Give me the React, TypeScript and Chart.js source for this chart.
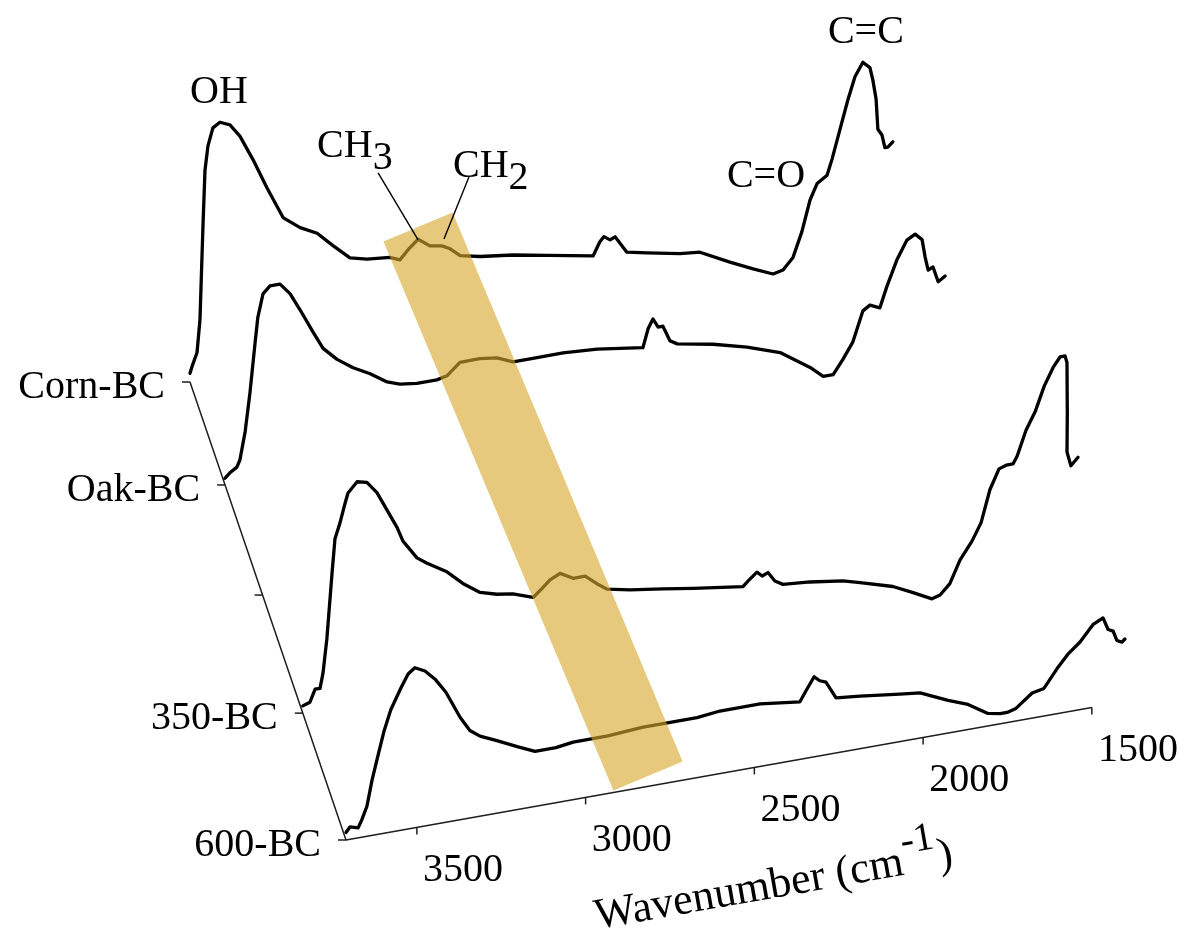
import { useEffect, useRef } from "react";
import { Chart, registerables } from "chart.js";

Chart.register(...registerables);

// ---------------- DATA ----------------
// Series (back to front) and the depth-axis slots they sit in
const SERIES_NAMES = ["Corn-BC", "Oak-BC", "350-BC", "600-BC"];
const SERIES_SLOTS = [0, 1, 3, 4];
const DEPTH_LABELS = ["Corn-BC", "Oak-BC", "", "350-BC", "600-BC"];
const AXIS_TICKS = [3500, 3000, 2500, 2000, 1500];
const AXIS_TITLE = "Wavenumber (cm";
const AXIS_TITLE_SUP = "-1";

const cornWavenumber = [3710, 3703, 3686, 3676, 3666, 3659, 3649, 3632, 3608, 3574, 3540, 3495, 3448, 3393, 3335, 3277, 3223, 3165, 3107, 3029, 2995, 2967, 2933, 2893, 2852, 2824, 2790, 2722, 2610, 2494, 2337, 2314, 2300, 2279, 2262, 2222, 2153, 2041, 1973, 1871, 1792, 1724, 1690, 1656, 1626, 1598, 1574, 1540, 1523, 1496, 1469, 1445, 1418, 1394, 1384, 1373, 1367, 1353, 1343, 1333, 1316];
const cornAbsorbance = [0.04, 0.07, 0.13, 0.28, 0.70, 0.96, 1.07, 1.15, 1.17, 1.15, 1.09, 0.97, 0.83, 0.68, 0.62, 0.58, 0.51, 0.44, 0.42, 0.41, 0.39, 0.43, 0.47, 0.43, 0.42, 0.40, 0.36, 0.34, 0.32, 0.29, 0.25, 0.31, 0.33, 0.31, 0.32, 0.24, 0.22, 0.19, 0.18, 0.11, 0.06, 0.02, 0.03, 0.08, 0.19, 0.33, 0.40, 0.43, 0.50, 0.63, 0.76, 0.86, 0.92, 0.89, 0.83, 0.74, 0.60, 0.57, 0.51, 0.51, 0.53];

const oakWavenumber = [3710, 3694, 3671, 3661, 3644, 3628, 3611, 3602, 3585, 3562, 3529, 3496, 3463, 3420, 3387, 3341, 3288, 3232, 3176, 3134, 3078, 3012, 2979, 2936, 2893, 2870, 2814, 2761, 2705, 2596, 2484, 2333, 2316, 2300, 2283, 2267, 2244, 2220, 2102, 1990, 1881, 1782, 1739, 1706, 1674, 1641, 1608, 1585, 1552, 1529, 1496, 1463, 1436, 1413, 1403, 1393, 1377, 1360, 1337];
const oakAbsorbance = [0.03, 0.05, 0.07, 0.10, 0.22, 0.39, 0.61, 0.72, 0.82, 0.85, 0.85, 0.80, 0.72, 0.61, 0.53, 0.47, 0.42, 0.38, 0.33, 0.31, 0.30, 0.30, 0.31, 0.36, 0.36, 0.36, 0.35, 0.32, 0.32, 0.32, 0.31, 0.28, 0.36, 0.40, 0.36, 0.36, 0.29, 0.27, 0.24, 0.20, 0.15, 0.06, 0.01, 0.01, 0.07, 0.14, 0.27, 0.29, 0.27, 0.36, 0.47, 0.55, 0.57, 0.54, 0.46, 0.40, 0.41, 0.34, 0.36];

const bc350Wavenumber = [3710, 3688, 3672, 3657, 3648, 3636, 3620, 3611, 3596, 3580, 3571, 3543, 3513, 3482, 3451, 3420, 3402, 3359, 3328, 3267, 3218, 3165, 3113, 3064, 3002, 2975, 2950, 2919, 2879, 2842, 2806, 2775, 2704, 2603, 2510, 2357, 2341, 2314, 2298, 2280, 2259, 2234, 2151, 2050, 1997, 1896, 1834, 1776, 1751, 1721, 1690, 1653, 1625, 1598, 1570, 1548, 1527, 1514, 1487, 1459, 1431, 1404, 1382, 1367, 1361, 1360, 1361, 1349, 1327];
const bc350Absorbance = [0.03, 0.04, 0.09, 0.09, 0.15, 0.29, 0.56, 0.70, 0.76, 0.84, 0.88, 0.92, 0.91, 0.86, 0.78, 0.70, 0.64, 0.56, 0.53, 0.48, 0.42, 0.37, 0.35, 0.34, 0.31, 0.34, 0.37, 0.39, 0.36, 0.36, 0.32, 0.29, 0.27, 0.25, 0.23, 0.20, 0.22, 0.25, 0.23, 0.24, 0.20, 0.18, 0.17, 0.15, 0.13, 0.09, 0.05, 0.01, 0.02, 0.06, 0.15, 0.22, 0.29, 0.42, 0.50, 0.51, 0.51, 0.54, 0.64, 0.71, 0.81, 0.88, 0.92, 0.92, 0.89, 0.68, 0.52, 0.46, 0.49];

const bc600Wavenumber = [3710, 3698, 3674, 3663, 3648, 3633, 3618, 3597, 3577, 3547, 3526, 3506, 3476, 3446, 3414, 3372, 3343, 3313, 3263, 3200, 3150, 3088, 3037, 2975, 2934, 2833, 2762, 2670, 2602, 2483, 2365, 2347, 2323, 2306, 2288, 2258, 2187, 2069, 2009, 1926, 1867, 1808, 1772, 1751, 1725, 1677, 1642, 1603, 1571, 1535, 1497, 1467, 1452, 1437, 1426, 1411, 1402];
const bc600Absorbance = [0.03, 0.05, 0.04, 0.07, 0.12, 0.22, 0.30, 0.41, 0.49, 0.57, 0.62, 0.64, 0.62, 0.58, 0.52, 0.41, 0.35, 0.32, 0.29, 0.25, 0.22, 0.22, 0.23, 0.23, 0.23, 0.24, 0.24, 0.24, 0.25, 0.25, 0.23, 0.27, 0.32, 0.30, 0.29, 0.22, 0.21, 0.19, 0.18, 0.13, 0.10, 0.05, 0.04, 0.04, 0.05, 0.10, 0.11, 0.18, 0.23, 0.27, 0.33, 0.35, 0.30, 0.29, 0.25, 0.24, 0.25];

const SERIES_WAVENUMBERS = [cornWavenumber, oakWavenumber, bc350Wavenumber, bc600Wavenumber];
const SERIES_ABSORBANCE = [cornAbsorbance, oakAbsorbance, bc350Absorbance, bc600Absorbance];

// Peak annotations (anchored on the Corn-BC spectrum)
const PEAK_LABELS = ["OH", "C=C", "C=O"];
const PEAK_WAVENUMBERS = [3608, 1418, 1540];
const PEAK_ABSORBANCE = [1.17, 0.92, 0.43];
const GROUP_LABELS = ["CH", "CH"];
const GROUP_SUBSCRIPTS = ["3", "2"];
const GROUP_WAVENUMBERS = [2933, 2845];
const GROUP_ABSORBANCE = [0.467, 0.45];

// ---------------- PROJECTION (oblique 3D view with mild perspective) ----------------
const CANVAS_W = 1188;
const CANVAS_H = 937;
const W_START = 3710; // wavenumber at the corner of the axes
const BACK_ORIGIN = { x: 190, y: 382 };
const FRONT_ORIGIN = { x: 346, y: 840 };
const STEP_PER_CM = { x: 0.3375, y: -0.06 };
const ABS_UNIT = 250;
const PERSPECTIVE = 0.0374;
const LAST_SLOT = 4;

function depthScale(k: number) {
  return 1 / (1 + PERSPECTIVE * (LAST_SLOT - k));
}
function depthOrigin(k: number) {
  const f = (k * depthScale(k)) / LAST_SLOT;
  return {
    x: BACK_ORIGIN.x + f * (FRONT_ORIGIN.x - BACK_ORIGIN.x),
    y: BACK_ORIGIN.y + f * (FRONT_ORIGIN.y - BACK_ORIGIN.y),
  };
}
function project(k: number, w: number, a: number) {
  const s = depthScale(k);
  const o = depthOrigin(k);
  const t = W_START - w;
  return {
    x: o.x + s * t * STEP_PER_CM.x,
    y: o.y + s * t * STEP_PER_CM.y - s * a * ABS_UNIT,
  };
}

// ---------------- LAYOUT / STYLE ----------------
const FONT = "'Liberation Serif', 'Times New Roman', 'DejaVu Serif', serif";
const FONT_SIZE = 40;
const TITLE_FONT_SIZE = 44;
const LINE_COLOR = "#000000";
const AXIS_COLOR = "#1e1e1e";
const BAND_COLOR = "rgba(214,168,44,0.62)";
const BAND_TOP = { x: 418, y: 227 };
const BAND_BOTTOM = { x: 648, y: 776 };
const BAND_WIDTH = 75;
const PEAK_OFFSETS = [
  { dx: -1, dy: -19, align: "center" },
  { dx: 3, dy: -19, align: "center" },
  { dx: -22, dy: 12, align: "right" },
];
const GROUP_TEXT_OFFSETS = [
  { dx: -101, dy: -83 },
  { dx: 9, dy: -62 },
];
const GROUP_LINE_OFFSETS = [
  { dx: -40, dy: -67 },
  { dx: 25, dy: -62 },
];
const TITLE_POS = { x: 597, y: 929 };
const TITLE_ANGLE = -10;

const overlayPlugin = {
  id: "overlay3d",
  beforeDatasetsDraw(chart: any) {
    const ctx = chart.ctx;
    const sx = chart.scales.x;
    const sy = chart.scales.y;
    const P = (p: { x: number; y: number }) => ({ x: sx.getPixelForValue(p.x), y: sy.getPixelForValue(p.y) });
    ctx.save();
    ctx.strokeStyle = AXIS_COLOR;
    ctx.lineWidth = 1.5;
    // depth (series) axis
    const b = P(depthOrigin(0));
    const f = P(depthOrigin(LAST_SLOT));
    ctx.beginPath();
    ctx.moveTo(b.x, b.y);
    ctx.lineTo(f.x, f.y);
    // wavenumber axis
    const e = P(project(LAST_SLOT, AXIS_TICKS[AXIS_TICKS.length - 1], 0));
    ctx.moveTo(f.x, f.y);
    ctx.lineTo(e.x, e.y);
    ctx.stroke();
    // depth ticks + labels
    ctx.fillStyle = "#000";
    ctx.font = `${FONT_SIZE}px ${FONT}`;
    ctx.textAlign = "right";
    ctx.textBaseline = "alphabetic";
    for (let k = 0; k <= LAST_SLOT; k++) {
      const o = P(depthOrigin(k));
      ctx.beginPath();
      ctx.moveTo(o.x - 8, o.y);
      ctx.lineTo(o.x, o.y);
      ctx.stroke();
      if (DEPTH_LABELS[k]) ctx.fillText(DEPTH_LABELS[k], o.x - 25, o.y + 16);
    }
    // wavenumber ticks + labels
    ctx.textAlign = "center";
    for (const w of AXIS_TICKS) {
      const p = P(project(LAST_SLOT, w, 0));
      ctx.beginPath();
      ctx.moveTo(p.x, p.y);
      ctx.lineTo(p.x, p.y + 7);
      ctx.stroke();
      ctx.fillText(String(w), p.x + 46, p.y + 54);
    }
    // axis title
    ctx.save();
    const tp = P(TITLE_POS);
    ctx.translate(tp.x, tp.y);
    ctx.rotate((TITLE_ANGLE * Math.PI) / 180);
    ctx.textAlign = "left";
    ctx.font = `${TITLE_FONT_SIZE}px ${FONT}`;
    ctx.fillText(AXIS_TITLE, 0, 0);
    let xo = ctx.measureText(AXIS_TITLE).width + 1;
    ctx.font = `${TITLE_FONT_SIZE - 4}px ${FONT}`;
    ctx.fillText(AXIS_TITLE_SUP, xo, -21);
    xo += ctx.measureText(AXIS_TITLE_SUP).width + 1;
    ctx.font = `${TITLE_FONT_SIZE}px ${FONT}`;
    ctx.fillText(")", xo, 0);
    ctx.restore();
    ctx.restore();
  },
  afterDatasetsDraw(chart: any) {
    const ctx = chart.ctx;
    const sx = chart.scales.x;
    const sy = chart.scales.y;
    const P = (p: { x: number; y: number }) => ({ x: sx.getPixelForValue(p.x), y: sy.getPixelForValue(p.y) });
    ctx.save();
    // highlight band
    const t = P(BAND_TOP);
    const bt = P(BAND_BOTTOM);
    const dx = bt.x - t.x;
    const dy = bt.y - t.y;
    const len = Math.hypot(dx, dy);
    const nx = (-dy / len) * (BAND_WIDTH / 2);
    const ny = (dx / len) * (BAND_WIDTH / 2);
    ctx.fillStyle = BAND_COLOR;
    ctx.beginPath();
    ctx.moveTo(t.x + nx, t.y + ny);
    ctx.lineTo(t.x - nx, t.y - ny);
    ctx.lineTo(bt.x - nx, bt.y - ny);
    ctx.lineTo(bt.x + nx, bt.y + ny);
    ctx.closePath();
    ctx.fill();

    // peak labels
    ctx.fillStyle = "#000";
    ctx.font = `${FONT_SIZE}px ${FONT}`;
    ctx.textBaseline = "alphabetic";
    PEAK_LABELS.forEach((txt, i) => {
      const a = P(project(SERIES_SLOTS[0], PEAK_WAVENUMBERS[i], PEAK_ABSORBANCE[i]));
      ctx.textAlign = PEAK_OFFSETS[i].align;
      ctx.fillText(txt, a.x + PEAK_OFFSETS[i].dx, a.y + PEAK_OFFSETS[i].dy);
    });
    // group labels with subscripts and leader lines
    ctx.strokeStyle = "#000";
    ctx.lineWidth = 1.4;
    GROUP_LABELS.forEach((txt, i) => {
      const a = P(project(SERIES_SLOTS[0], GROUP_WAVENUMBERS[i], GROUP_ABSORBANCE[i]));
      const tx = a.x + GROUP_TEXT_OFFSETS[i].dx;
      const ty = a.y + GROUP_TEXT_OFFSETS[i].dy;
      ctx.textAlign = "left";
      ctx.font = `${FONT_SIZE}px ${FONT}`;
      ctx.fillText(txt, tx, ty);
      const wd = ctx.measureText(txt).width;
      ctx.font = `${FONT_SIZE}px ${FONT}`;
      ctx.fillText(GROUP_SUBSCRIPTS[i], tx + wd, ty + 12);
      ctx.beginPath();
      ctx.moveTo(a.x + GROUP_LINE_OFFSETS[i].dx, a.y + GROUP_LINE_OFFSETS[i].dy);
      ctx.lineTo(a.x, a.y);
      ctx.stroke();
    });
    ctx.restore();
  },
};

export default function App() {
  const ref = useRef<HTMLCanvasElement | null>(null);
  useEffect(() => {
    if (!ref.current) return;
    const datasets = SERIES_NAMES.map((name, i) => ({
      label: name,
      data: SERIES_WAVENUMBERS[i].map((w, j) => project(SERIES_SLOTS[i], w, SERIES_ABSORBANCE[i][j])),
      showLine: true,
      borderColor: LINE_COLOR,
      borderWidth: 3.3,
      pointRadius: 0,
      tension: 0,
      fill: false,
      borderJoinStyle: "round" as const,
      borderCapStyle: "round" as const,
    }));
    const chart = new Chart(ref.current, {
      type: "scatter",
      data: { datasets },
      options: {
        animation: false,
        responsive: false,
        devicePixelRatio: 1,
        layout: { padding: 0 },
        scales: {
          x: { type: "linear", min: 0, max: CANVAS_W, display: false },
          y: { type: "linear", min: 0, max: CANVAS_H, reverse: true, display: false },
        },
        plugins: { legend: { display: false }, tooltip: { enabled: false } },
        events: [],
      },
      plugins: [overlayPlugin],
    } as any);
    return () => chart.destroy();
  }, []);
  return (
    <div style={{ position: "absolute", left: 0, top: 0, width: CANVAS_W, height: CANVAS_H, background: "#fff" }}>
      <canvas ref={ref} width={CANVAS_W} height={CANVAS_H} style={{ display: "block" }} />
    </div>
  );
}
